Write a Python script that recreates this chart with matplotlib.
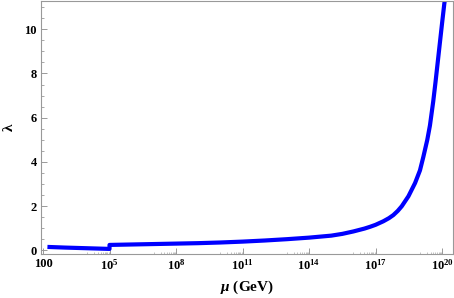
import numpy as np
import matplotlib
matplotlib.use("Agg")
import matplotlib.pyplot as plt
from matplotlib.ticker import FixedLocator, FixedFormatter

plt.rcParams['font.family'] = ['Liberation Serif', 'DejaVu Serif']
plt.rcParams['font.weight'] = 'bold'
plt.rcParams['mathtext.fontset'] = 'custom'
plt.rcParams['mathtext.rm'] = 'Liberation Serif:bold'
plt.rcParams['mathtext.it'] = 'Liberation Serif:italic:bold'
plt.rcParams['mathtext.bf'] = 'Liberation Serif:bold'

# Data: log10(mu/GeV) exponents and lambda values
seg1_exp = [2.2, 3.0, 4.0, 5.0]
seg1_lam = [0.16, 0.13, 0.10, 0.07]
seg2_exp = [5.0, 6, 7, 8, 9, 10, 11, 12, 13, 14, 15, 15.5, 16, 16.5, 16.75, 17.0,
            17.35, 17.6, 17.8, 18.0, 18.18, 18.48, 18.78, 19.0, 19.15, 19.33, 19.45,
            19.6, 19.7, 19.8, 19.9, 20.0, 20.1, 20.12]
seg2_lam = [0.25, 0.27, 0.29, 0.31, 0.33, 0.36, 0.40, 0.45, 0.51, 0.58, 0.67, 0.75,
            0.86, 0.99, 1.07, 1.16, 1.32, 1.46, 1.6, 1.79, 2.0, 2.45, 3.05, 3.62,
            4.22, 5.0, 5.65, 6.75, 7.6, 8.5, 9.4, 10.3, 11.17, 11.3]

xtick_exp = [2, 5, 8, 11, 14, 17, 20]
xtick_labels = ['100', r'$10^{5}$', r'$10^{8}$', r'$10^{11}$', r'$10^{14}$', r'$10^{17}$', r'$10^{20}$']
yticks = [0, 2, 4, 6, 8, 10]

fig = plt.figure(figsize=(4.54, 2.98), dpi=100)
ax = fig.add_axes([41/454, 44/298, 412/454, 253.5/298])

mu1 = [10.0**e for e in seg1_exp]
mu2 = [10.0**e for e in seg2_exp]
ax.plot(mu1 + mu2, seg1_lam + seg2_lam, color=(0, 0, 1), lw=3.0,
        solid_capstyle='butt', solid_joinstyle='round')

ax.set_xscale('log')
ax.set_xlim(10**1.91, 10**20.49)
ax.set_ylim(-0.16, 11.3)

ax.xaxis.set_major_locator(FixedLocator([10.0**e for e in xtick_exp]))
ax.xaxis.set_major_formatter(FixedFormatter(xtick_labels))
minors = []
for e in xtick_exp[1:]:
    for k in range(1, 10):
        minors.append(k * 10.0**(e - 1))
ax.xaxis.set_minor_locator(FixedLocator(minors))
ax.xaxis.set_minor_formatter(FixedFormatter([''] * len(minors)))

ax.yaxis.set_major_locator(FixedLocator(yticks))
ax.yaxis.set_major_formatter(FixedFormatter([str(v) for v in yticks]))
ax.yaxis.set_minor_locator(FixedLocator(np.arange(0, 11.01, 0.5)))

gray = '#999999'
for s in ax.spines.values():
    s.set_color(gray)
    s.set_linewidth(0.8)
ax.tick_params(which='both', direction='in', colors=gray, labelcolor='black', labelsize=9, pad=3)
ax.tick_params(which='major', length=4, width=0.7)
ax.tick_params(which='minor', length=2, width=0.6)
ax.tick_params(axis='x', which='minor', length=1.5, width=0.5, colors='#aaaaaa')
for lab in ax.get_xticklabels() + ax.get_yticklabels():
    lab.set_fontweight('bold')

ax.set_xlabel(r'$\mu$ (GeV)', fontsize=11, fontweight='bold', labelpad=4)
ax.set_ylabel('λ', fontsize=11, fontweight='bold', labelpad=6)

fig.savefig('out.png', dpi=100)
